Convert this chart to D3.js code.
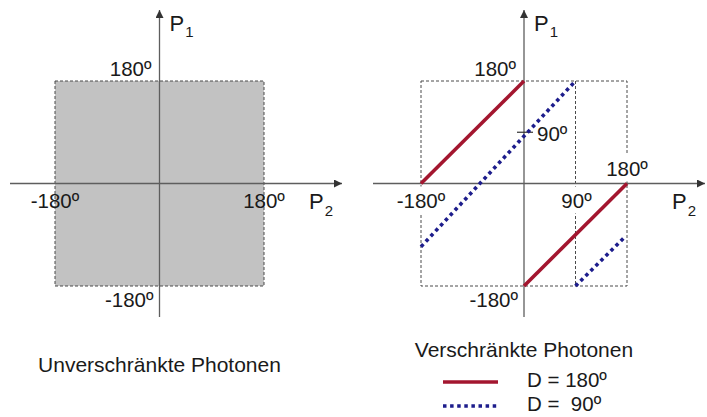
<!DOCTYPE html>
<html>
<head>
<meta charset="utf-8">
<script src="https://cdn.jsdelivr.net/npm/d3@7"></script>
<style>
  body { margin: 0; background: #fff; }
  text { font-family: Arial, "Liberation Sans", sans-serif; font-size: 20.5px; fill: #1a1a1a; white-space: pre; }
</style>
</head>
<body>
<div id="chart"></div>
<script>
// polarizer angles P1, P2 run over this range
const angleDomain = [-180, 180];

// entangled photons, D = 180º : [P2, P1] end points of each segment
const redSegments = [[[-180, 0], [0, 180]], [[0, -180], [180, 0]]];
// entangled photons, D = 90º (as drawn in the sketch)
const blueSegments = [[[-180, -111], [88, 178]], [[90, -180], [177, -93]]];

const guideP2 = 90;   // dashed helper line in the right panel
const tickP1 = 90;    // tick on the P1 axis

const captions = ["Unverschränkte Photonen", "Verschränkte Photonen"];
const legendLabels = ["D = 180º", "D =  90º"];

const RED = "#a3162f", BLUE = "#1d1d8c", AXIS = "#5e5e5e", DASH = "#4a4a4a";

var width = 707, height = 417;

var svg = d3.select("#chart")
    .append("svg")
    .attr("width", width)
    .attr("height", height);

svg.append("defs").append("marker")
    .attr("id", "arrow")
    .attr("viewBox", "0 0 10 10")
    .attr("refX", 10).attr("refY", 5)
    .attr("markerWidth", 8).attr("markerHeight", 8)
    .attr("markerUnits", "userSpaceOnUse")
    .attr("orient", "auto")
    .append("path")
    .attr("d", "M0,0L10,5L0,10z")
    .attr("fill", "#333");

var line = d3.line();

function deg(v) { return v + "º"; }

function drawPanel(opt) {
    var g = svg.append("g");
    var x = d3.scaleLinear().domain(angleDomain).range(opt.xRange);
    var y = d3.scaleLinear().domain(angleDomain).range([286, 81]);

    var boxL = g.append("g"), maskL = g.append("g"), axisL = g.append("g"),
        dataL = g.append("g"), textL = g.append("g");

    // square of all angle pairs
    boxL.append("rect")
        .attr("x", x(-180)).attr("y", y(180))
        .attr("width", x(180) - x(-180)).attr("height", y(-180) - y(180))
        .attr("fill", opt.fill)
        .attr("stroke", DASH).attr("stroke-width", 1)
        .attr("stroke-dasharray", "3,2");

    // axes
    axisL.append("line")
        .attr("x1", x(0)).attr("x2", x(0))
        .attr("y1", 317).attr("y2", 10)
        .attr("stroke", AXIS).attr("stroke-width", 1.3)
        .attr("marker-end", "url(#arrow)");
    axisL.append("line")
        .attr("x1", opt.axisX[0]).attr("x2", opt.axisX[1])
        .attr("y1", y(0)).attr("y2", y(0))
        .attr("stroke", AXIS).attr("stroke-width", 1.3)
        .attr("marker-end", "url(#arrow)");

    // axis names
    var p1 = textL.append("text").attr("x", x(0) + 10).attr("y", 31)
        .style("font-size", "22px").text("P");
    p1.append("tspan").attr("dx", 1).attr("dy", 6).style("font-size", "15px").text("1");
    var p2 = textL.append("text").attr("x", opt.axisX[1] - 33).attr("y", 209)
        .style("font-size", "22px").text("P");
    p2.append("tspan").attr("dx", 1).attr("dy", 7).style("font-size", "15px").text("2");

    function label(txt, px, py, anchor, masked) {
        var t = textL.append("text")
            .attr("x", px).attr("y", py)
            .attr("text-anchor", anchor)
            .text(txt);
        if (masked) {
            var b = t.node().getBBox();
            maskL.append("rect")
                .attr("x", b.x - 2).attr("y", b.y - 2)
                .attr("width", b.width + 4).attr("height", b.height + 4)
                .attr("fill", "#fff");
        }
        return t;
    }

    label(deg(180), x(0) - 8, y(180) - 5, "end", false);
    label(deg(-180), x(0) - 6, y(-180) + 21, "end", false);
    label(deg(-180), x(-180), y(0) + 24, "middle", opt.masked);
    if (opt.entangled) {
        label(deg(180), x(180), y(0) - 8, "middle", true);
        label(deg(guideP2), x(guideP2) + 1, y(0) + 24, "middle", true);
    } else {
        label(deg(180), x(180), y(0) + 24, "middle", false);
    }

    textL.append("text")
        .attr("x", x(0)).attr("y", opt.captionY)
        .attr("text-anchor", "middle")
        .style("font-size", "21px")
        .text(opt.caption);

    if (!opt.entangled) return;

    boxL.append("line")
        .attr("x1", x(guideP2)).attr("x2", x(guideP2))
        .attr("y1", y(180)).attr("y2", y(-180))
        .attr("stroke", DASH).attr("stroke-width", 1)
        .attr("stroke-dasharray", "3,2");

    // tick and label at P1 = 90º
    axisL.append("line")
        .attr("x1", x(0) - 7).attr("x2", x(0) + 9)
        .attr("y1", y(tickP1)).attr("y2", y(tickP1))
        .attr("stroke", "#333").attr("stroke-width", 1.2);
    label(deg(tickP1), x(0) + 13, y(tickP1) + 9, "start", false);

    dataL.selectAll(".red")
        .data(redSegments)
        .enter()
        .append("path")
        .attr("class", "red")
        .attr("d", function (d) { return line(d.map(function (p) { return [x(p[0]), y(p[1])]; })); })
        .attr("stroke", RED).attr("stroke-width", 3.6).attr("fill", "none");

    dataL.selectAll(".blue")
        .data(blueSegments)
        .enter()
        .append("path")
        .attr("class", "blue")
        .attr("d", function (d) { return line(d.map(function (p) { return [x(p[0]), y(p[1])]; })); })
        .attr("stroke", BLUE).attr("stroke-width", 3.6)
        .attr("stroke-dasharray", "3.5,3.6").attr("fill", "none");
}

drawPanel({ xRange: [55, 264], axisX: [10, 342], fill: "#c2c2c2", masked: false,
            entangled: false, caption: captions[0], captionY: 372 });
drawPanel({ xRange: [421, 627], axisX: [373, 705], fill: "none", masked: true,
            entangled: true, caption: captions[1], captionY: 357 });

// legend
var legend = svg.append("g");
var rows = [{ color: RED, dash: null, y: 382 }, { color: BLUE, dash: "3.5,3.6", y: 406 }];
legend.selectAll("line")
    .data(rows)
    .enter()
    .append("line")
    .attr("x1", 443).attr("x2", 498)
    .attr("y1", function (d) { return d.y; }).attr("y2", function (d) { return d.y; })
    .attr("stroke", function (d) { return d.color; })
    .attr("stroke-width", 3.6)
    .attr("stroke-dasharray", function (d) { return d.dash; });
legend.selectAll("text")
    .data(legendLabels)
    .enter()
    .append("text")
    .attr("x", 527)
    .attr("y", function (d, i) { return rows[i].y + 5; })
    .text(function (d) { return d; });
</script>
</body>
</html>
